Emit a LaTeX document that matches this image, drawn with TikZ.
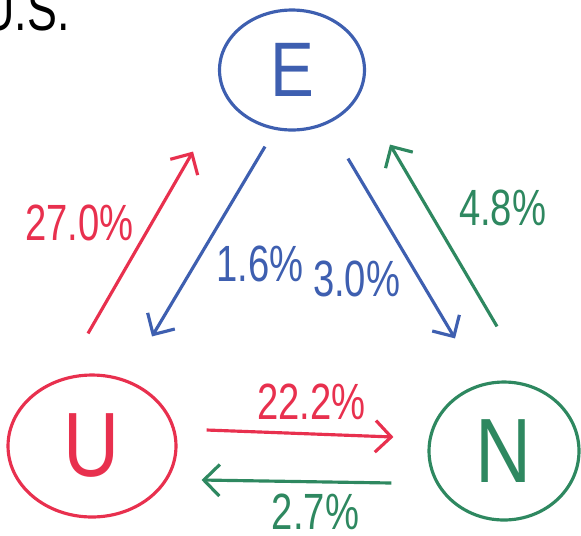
\documentclass[tikz,border=0pt]{standalone}
\usepackage{fontspec}
\setmainfont{Liberation Sans}
\newfontfamily\handfont[FakeStretch=0.75]{Liberation Sans}
\newfontfamily\letterfont[FakeStretch=0.85]{Liberation Sans}
\definecolor{hblue}{RGB}{62,95,176}
\definecolor{hred}{RGB}{232,48,78}
\definecolor{hgreen}{RGB}{46,136,96}
\usetikzlibrary{arrows.meta,positioning,shapes.geometric,calc}

\begin{document}
\begin{tikzpicture}[x=0.02cm, y=-0.02cm,
  state/.style={ellipse, line width=1.8pt, inner sep=0pt,
                font=\letterfont\fontsize{52}{60}\selectfont},
  rate/.style={inner sep=0pt, font=\handfont\fontsize{29}{34}\selectfont},
  arr/.style={-{Straight Barb[length=9pt,width=18pt]}, line width=1.8pt}
]
\useasboundingbox (0,0) rectangle (581,535);

% Title
\node[anchor=base east, inner sep=0pt, font=\handfont\fontsize{34}{40}\selectfont] (title) at (70,30) {U.S.};

% States
\node[state, draw=hblue,  text=hblue,  minimum width=2.9cm,  minimum height=2.4cm,
      font=\letterfont\fontsize{44}{50}\selectfont]                               (empl)   at (292,70)  {E};
\node[state, draw=hred,   text=hred,   minimum width=3.36cm, minimum height=2.84cm] (unempl) at (92,446)  {U};
\node[state, draw=hgreen, text=hgreen, minimum width=3.0cm,  minimum height=2.76cm] (nolf)   at (504,451) {N};

% Flows
\draw[arr, draw=hred]   ([shift={(-4,-40)}]unempl.north) -- ([shift={(-99,20)}]empl.south)
  node[rate, text=hred, pos=0.61, left=0.34cm] {27.0\%};
\draw[arr, draw=hblue]  ([shift={(-27,15)}]empl.south) -- ([shift={(60,-37)}]unempl.north)
  node[rate, text=hblue, pos=0.62, right=0.4cm] {1.6\%};
\draw[arr, draw=hblue]  ([shift={(56,27)}]empl.south) -- ([shift={(-49,-42)}]nolf.north)
  node[rate, text=hblue, pos=0.67, left=0.36cm] {3.0\%};
\draw[arr, draw=hgreen] ([shift={(-7,-54)}]nolf.north) -- ([shift={(98,13)}]empl.south)
  node[rate, text=hgreen, pos=0.65, right=0.6cm] {4.8\%};
\draw[arr, draw=hred]   ([shift={(29,-16)}]unempl.east) -- ([shift={(-34,-14)}]nolf.west)
  node[rate, text=hred, pos=0.56, above=0.26cm] {22.2\%};
\draw[arr, draw=hgreen] ([shift={(-36,32)}]nolf.west) -- ([shift={(24,34)}]unempl.east)
  node[rate, text=hgreen, pos=0.4, below=0.22cm] {2.7\%};
\end{tikzpicture}
\end{document}
